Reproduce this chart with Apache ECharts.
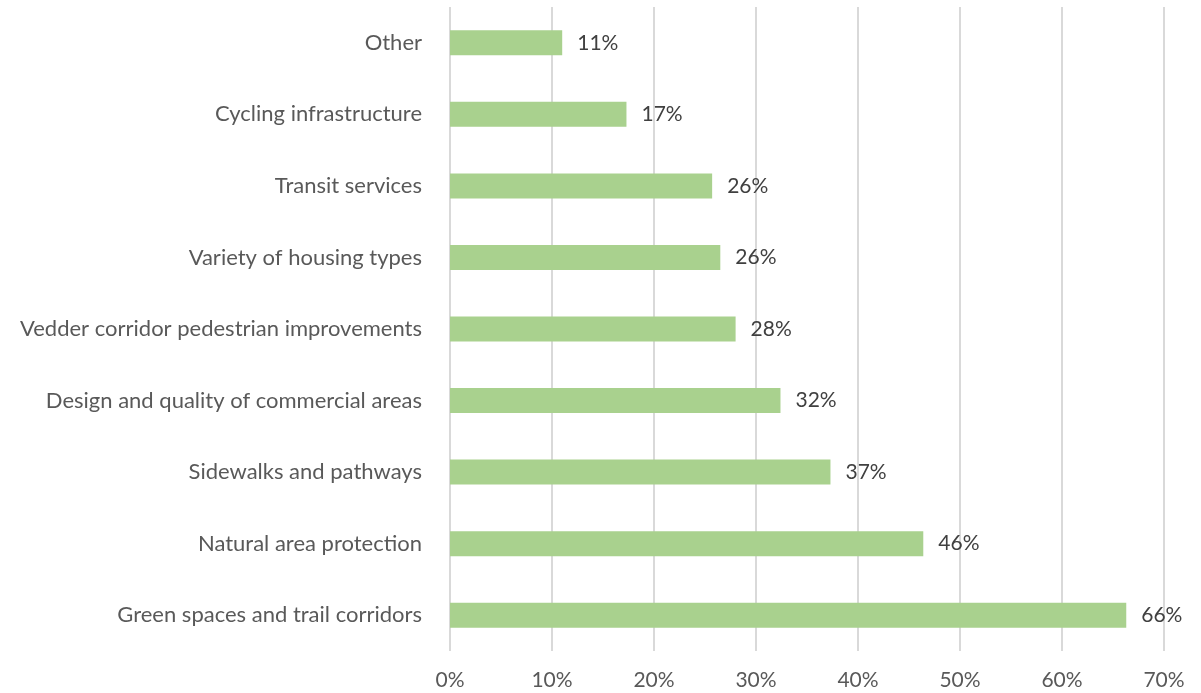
<!DOCTYPE html>
<html>
<head>
<meta charset="utf-8">
<script src="https://cdn.jsdelivr.net/npm/echarts@6/dist/echarts.min.js"></script>
<style>
  html, body { margin: 0; padding: 0; background: #fff; }
  #chart { width: 1201px; height: 693px; }
</style>
</head>
<body>
<div id="chart"></div>
<script>
  // categories bottom -> top (echarts category axis starts at the bottom)
  var categories = [
    'Green spaces and trail corridors',
    'Natural area protection',
    'Sidewalks and pathways',
    'Design and quality of commercial areas',
    'Vedder corridor pedestrian improvements',
    'Variety of housing types',
    'Transit services',
    'Cycling infrastructure',
    'Other'
  ];
  var values = [66.3, 46.4, 37.3, 32.4, 28.0, 26.5, 25.7, 17.3, 11.0];
  var valueLabels = ['66%', '46%', '37%', '32%', '28%', '26%', '26%', '17%', '11%'];

  var myChart = echarts.init(document.getElementById('chart'));
  myChart.setOption({
    animation: false,
    textStyle: { fontFamily: 'Lato, "Open Sans", sans-serif' },
    grid: { left: 450, right: 37, top: 7, bottom: 42, containLabel: false },
    xAxis: {
      type: 'value',
      min: 0,
      max: 70,
      interval: 10,
      axisLine: { show: false },
      axisTick: { show: false },
      splitLine: { lineStyle: { color: '#d9d9d9', width: 2 } },
      axisLabel: {
        formatter: '{value}%',
        fontSize: 21,
        color: '#595959',
        margin: 19
      }
    },
    yAxis: {
      type: 'category',
      data: categories,
      axisLine: { show: false },
      axisTick: { show: false },
      axisLabel: { fontSize: 22, color: '#595959', margin: 28 }
    },
    series: [
      {
        type: 'bar',
        data: values,
        barWidth: 25,
        itemStyle: { color: '#a9d18e' },
        label: {
          show: true,
          position: 'right',
          distance: 15,
          fontSize: 21,
          color: '#404040',
          formatter: function (p) { return valueLabels[p.dataIndex]; }
        }
      }
    ]
  });
</script>
</body>
</html>
